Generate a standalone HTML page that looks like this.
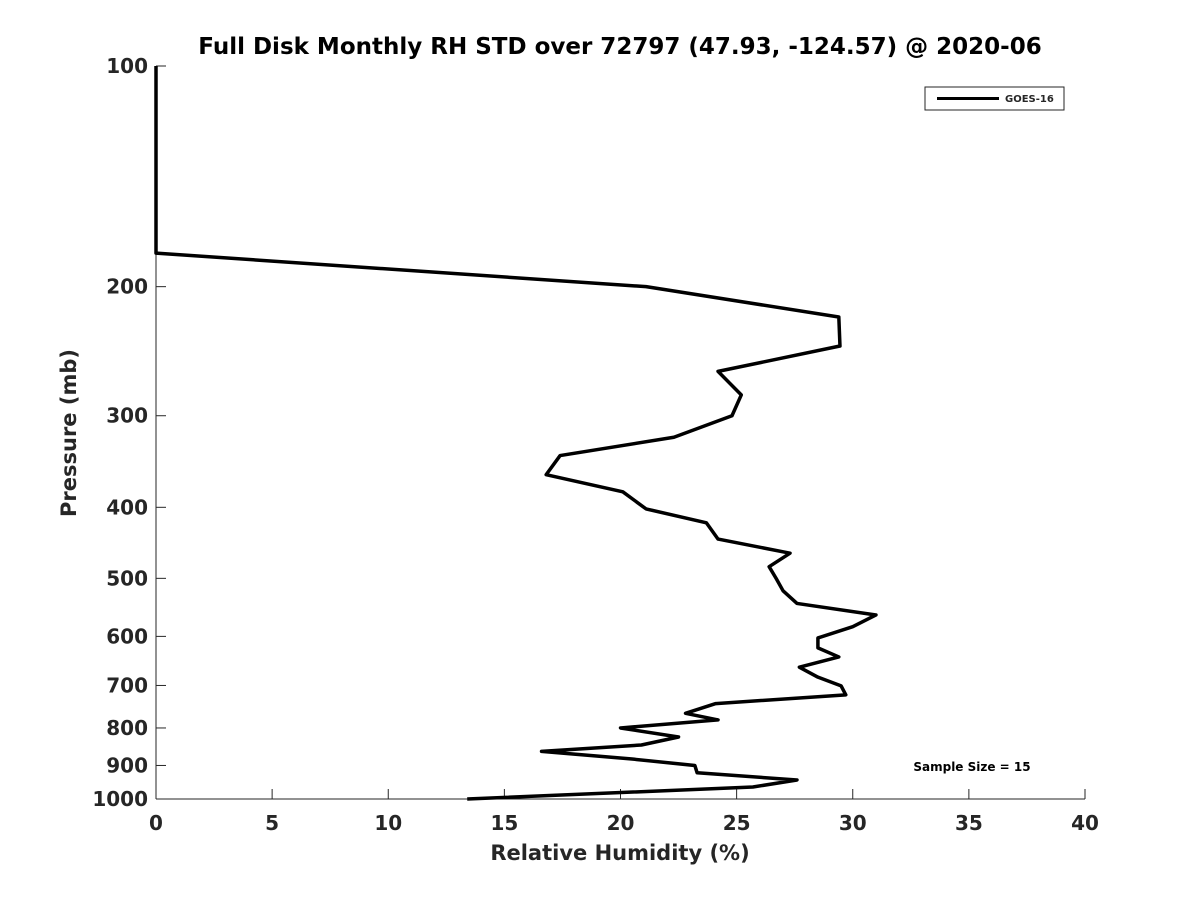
<!DOCTYPE html>
<html><head><meta charset="utf-8"><style>
body{margin:0;background:#fff;font-family:"Liberation Sans",sans-serif}
svg text{font-family:"DejaVu Sans","Liberation Sans",sans-serif;font-weight:bold;fill:#262626}
</style></head><body>
<svg width="1200" height="900" xmlns="http://www.w3.org/2000/svg">
<rect width="1200" height="900" fill="#fff"/>
<g id="g"></g>
</svg>
<script>
const rh=[0,0,21.1,29.4,29.45,24.2,25.2,24.8,22.3,17.4,16.8,20.1,21.1,23.7,24.2,27.3,26.4,26.7,27.0,27.6,31.0,30.0,28.5,28.5,29.4,27.7,28.5,29.5,29.7,24.1,22.8,24.2,20.0,22.5,20.9,16.6,20.5,23.2,23.3,27.6,25.7,13.4];
const pres=[100,180,200,220,241,261,281,300,321,340,361,381,402,420,442,462,482,500,520,541,561,582,603,622,640,661,682,701,721,741,764,780,800,823,844,861,882,900,921,942,963,1000];
const xTicks=[0,5,10,15,20,25,30,35,40];
const yTicks=[100,200,300,400,500,600,700,800,900,1000];
const X0=156,X1=1085,Y0=66,Y1=799;
const xs=v=>X0+(v/40)*(X1-X0);
const ys=p=>Y0+(Math.log10(p)-2)*(Y1-Y0);
const g=document.getElementById('g');
const NS='http://www.w3.org/2000/svg';
function mk(t,a,txt){const e=document.createElementNS(NS,t);for(const k in a)e.setAttribute(k,a[k]);if(txt!==undefined)e.textContent=txt;g.appendChild(e);return e;}
let e;
e=mk('line',{x1:X0,y1:Y1,x2:X1,y2:Y1,stroke:'#262626','stroke-width':1});


e=mk('line',{x1:X0,y1:Y0,x2:X0,y2:Y1,stroke:'#262626','stroke-width':1});


xTicks.forEach(v=>{const x=xs(v);
e=mk('line',{x1:x,y1:Y1,x2:x,y2:Y1-10,stroke:'#262626'});


e=mk('text',{x:x,y:830,'text-anchor':'middle','font-size':20},String(v));

});
yTicks.forEach(p=>{const y=ys(p);
e=mk('line',{x1:X0,y1:y,x2:X0+10,y2:y,stroke:'#262626'});


e=mk('text',{x:148,y:y+7,'text-anchor':'end','font-size':20},String(p));

});
e=mk('polyline',{points:rh.map((v,i)=>xs(v)+','+ys(pres[i])).join(' '),fill:'none',stroke:'#000','stroke-width':3.5,'stroke-linejoin':'round'});


e=mk('text',{x:620,y:54,'text-anchor':'middle','font-size':23,style:'fill:#000'},'Full Disk Monthly RH STD over 72797 (47.93, -124.57) @ 2020-06');


e=mk('text',{x:620,y:860,'text-anchor':'middle','font-size':21},'Relative Humidity (%)');


e=mk('text',{x:0,y:0,'text-anchor':'middle','font-size':21,transform:'translate(76,433) rotate(-90)'},'Pressure (mb)');


e=mk('rect',{x:925,y:87,width:139,height:23,fill:'#fff',stroke:'#262626','stroke-width':1});


e=mk('line',{x1:937,y1:98.5,x2:999,y2:98.5,stroke:'#000','stroke-width':3});


e=mk('text',{x:1005,y:102,'font-size':10},'GOES-16');


e=mk('text',{x:972,y:771,'text-anchor':'middle','font-size':12,style:'fill:#000'},'Sample Size = 15');


</script>
</body></html>
